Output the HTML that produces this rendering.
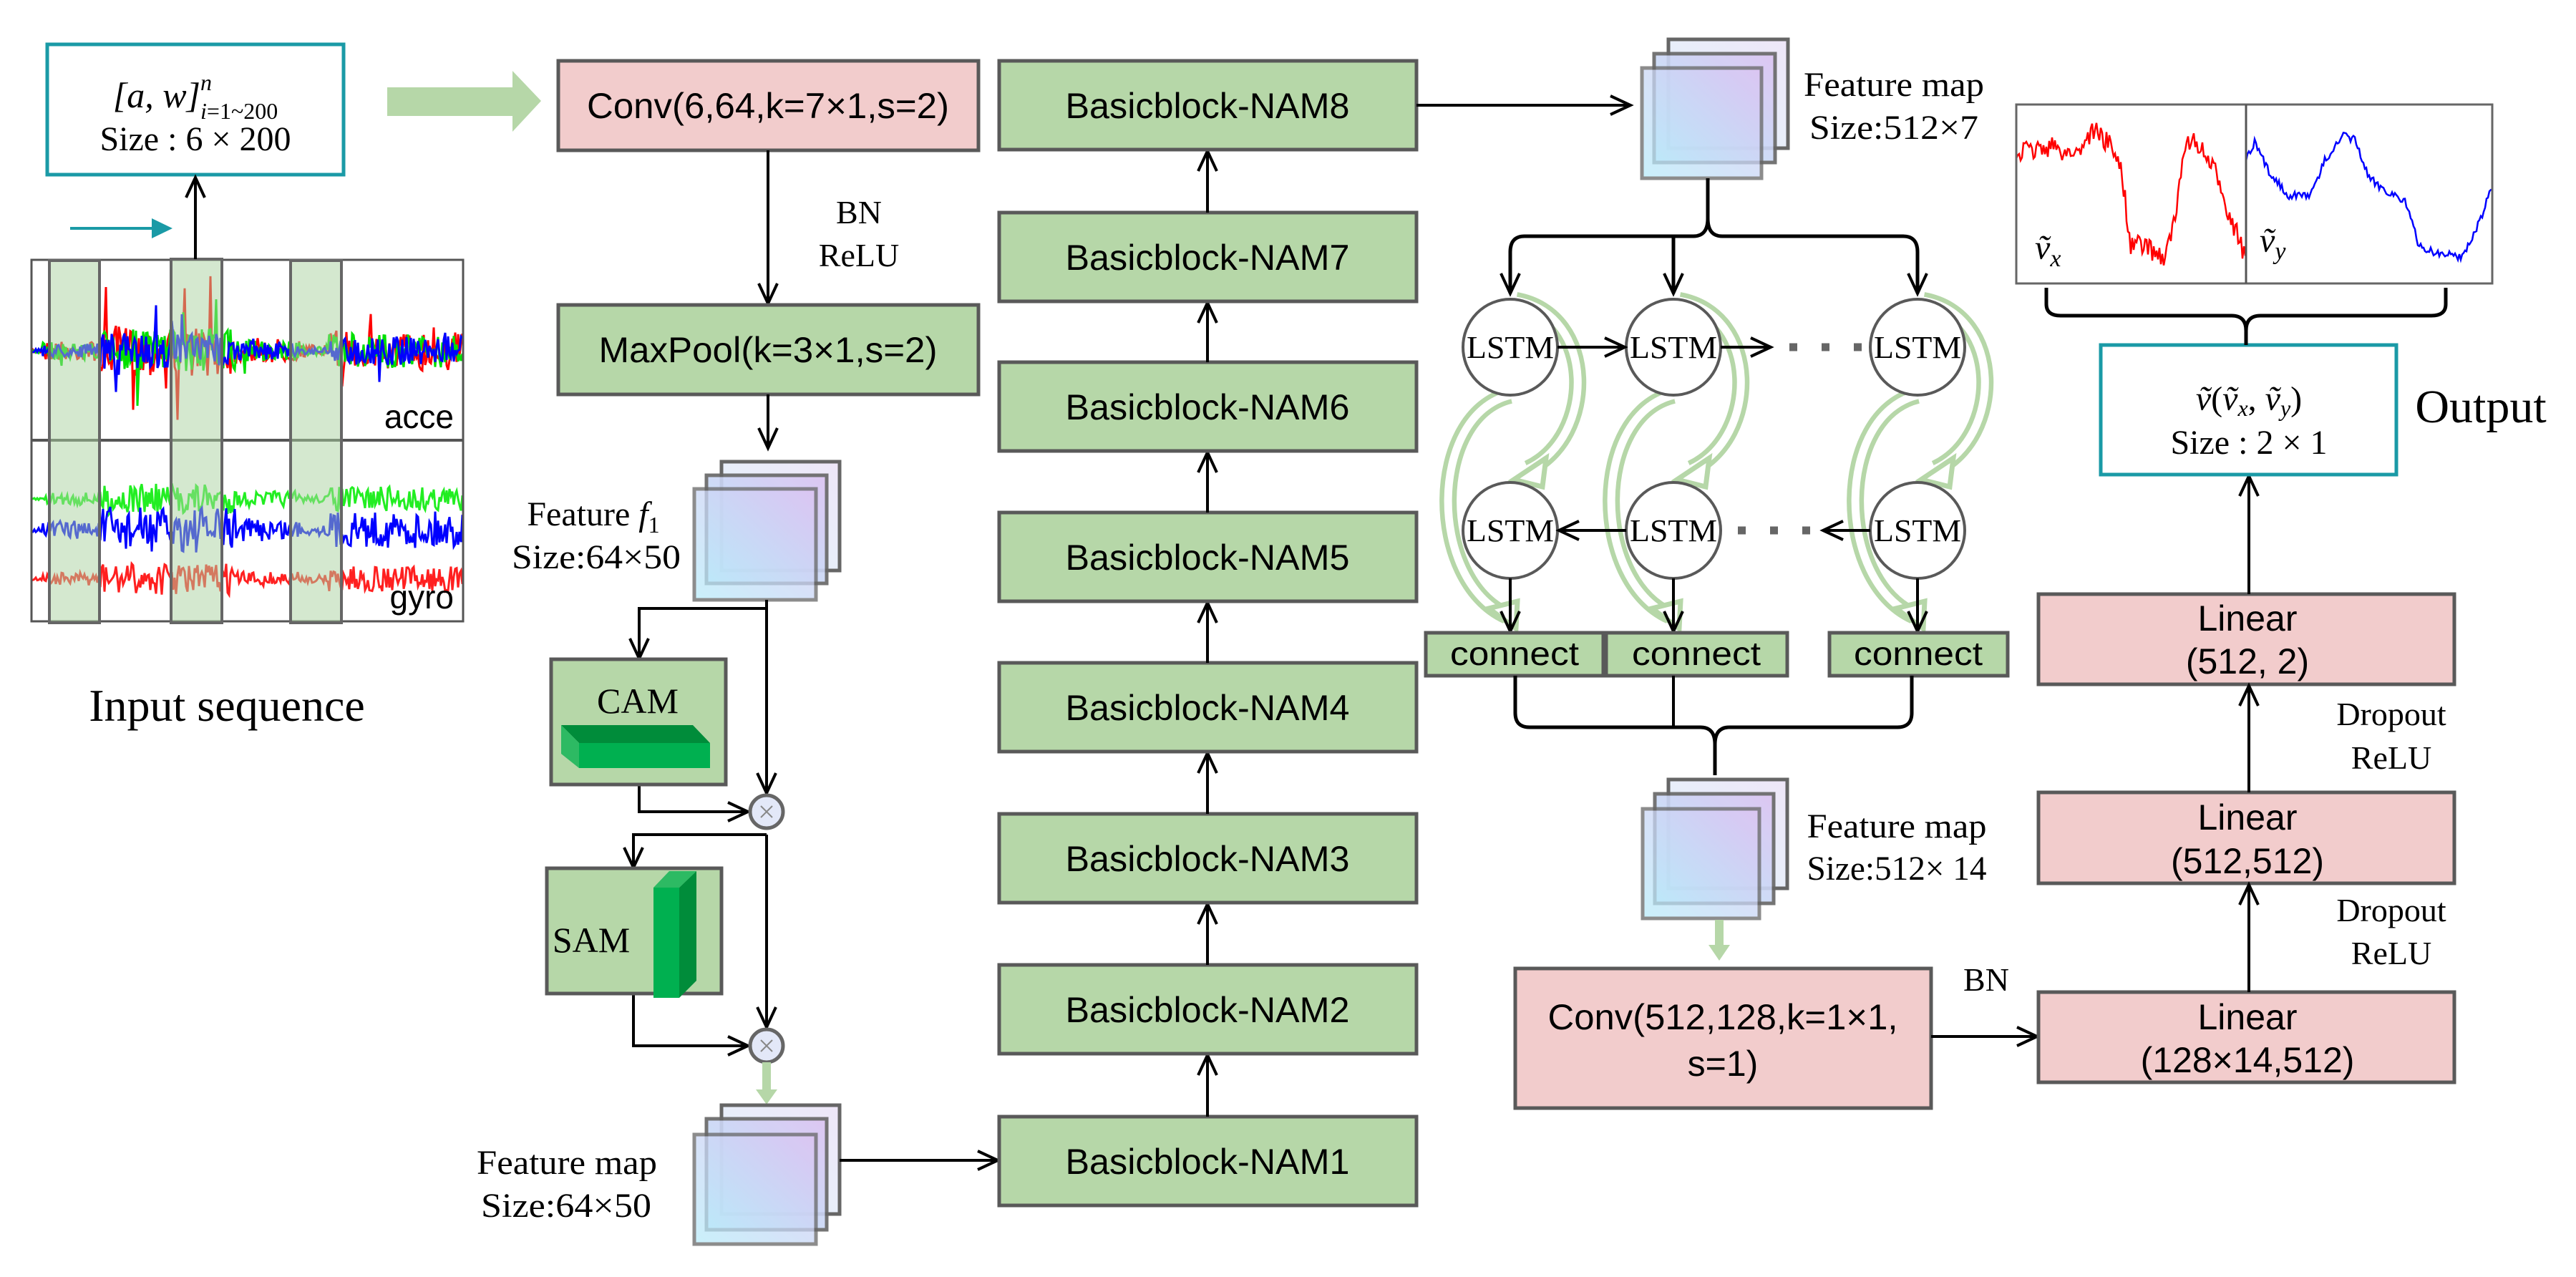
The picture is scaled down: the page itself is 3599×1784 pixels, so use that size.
<!DOCTYPE html>
<html><head><meta charset="utf-8"><style>
html,body{margin:0;padding:0;background:#fff;}
svg{display:block;}
.ar{font-family:"Liberation Sans",Arial,sans-serif;}
.tm{font-family:"Liberation Serif","Times New Roman",serif;}
</style></head><body>
<svg id="s" width="3599" height="1784" viewBox="0 0 3599 1784" xmlns="http://www.w3.org/2000/svg">
<defs>
<marker id="a" markerUnits="userSpaceOnUse" markerWidth="40" markerHeight="40" refX="30" refY="15" orient="auto">
<path d="M2,2 L30,15 L2,28" fill="none" stroke="#000" stroke-width="4"/></marker>
<linearGradient id="g" x1="0" y1="1" x2="1" y2="0">
<stop offset="0" stop-color="#b8ecfa"/><stop offset="1" stop-color="#dcc3f2"/></linearGradient>
<linearGradient id="g2" x1="0" y1="1" x2="1" y2="0">
<stop offset="0" stop-color="#e3f6fc"/><stop offset="1" stop-color="#eee6f8"/></linearGradient>
</defs>

<rect x="66" y="62" width="414" height="182" fill="#fff" stroke="#1a9aa6" stroke-width="5"/>
<text x="273" y="150" text-anchor="middle" class="tm" font-size="50"><tspan font-style="italic">[a, w]</tspan><tspan font-size="32" dy="-24" font-style="italic">n</tspan><tspan font-size="32" dx="-16" dy="40" font-style="italic">i</tspan><tspan font-size="32" dy="0">=1~200</tspan></text>
<text x="273" y="210" text-anchor="middle" class="tm" font-size="48">Size : 6 × 200</text>

<polygon points="541,122 716,122 716,99 756,141 716,184 716,162 541,162" fill="#b6d7a8"/>

<g id="sig"></g>
<rect x="44" y="363" width="603" height="505" fill="none" stroke="#555" stroke-width="3"/>
<line x1="44" y1="615" x2="647" y2="615" stroke="#555" stroke-width="4"/>
<g fill="rgba(170,210,160,0.5)" stroke="#666" stroke-width="4">
<rect x="69" y="364" width="70" height="506"/>
<rect x="239" y="362" width="71" height="508"/>
<rect x="406" y="364" width="71" height="506"/>
</g>
<text x="634" y="598" text-anchor="end" class="ar" font-size="46">acce</text>
<text x="634" y="850" text-anchor="end" class="ar" font-size="46">gyro</text>
<line x1="98" y1="319" x2="222" y2="319" stroke="#1a9aa6" stroke-width="4"/>
<polygon points="212,305 241,319 212,333" fill="#1a9aa6"/>
<line x1="273" y1="362" x2="273" y2="248" stroke="#000" stroke-width="4" marker-end="url(#a)"/>
<text x="317" y="1007" text-anchor="middle" class="tm" font-size="64">Input sequence</text>

<rect x="780" y="85" width="587" height="125" fill="#f2cccc" stroke="#595959" stroke-width="5"/>
<text x="1073" y="165" text-anchor="middle" class="ar" font-size="50" textLength="506" lengthAdjust="spacingAndGlyphs">Conv(6,64,k=7×1,s=2)</text>
<line x1="1073" y1="210" x2="1073" y2="424" stroke="#000" stroke-width="4" marker-end="url(#a)"/>
<text x="1200" y="312" text-anchor="middle" class="tm" font-size="46">BN</text>
<text x="1200" y="372" text-anchor="middle" class="tm" font-size="46">ReLU</text>
<rect x="780" y="426" width="587" height="125" fill="#b6d7a8" stroke="#595959" stroke-width="5"/>
<text x="1073" y="506" text-anchor="middle" class="ar" font-size="50" textLength="473" lengthAdjust="spacingAndGlyphs">MaxPool(k=3×1,s=2)</text>
<line x1="1073" y1="551" x2="1073" y2="626" stroke="#000" stroke-width="4" marker-end="url(#a)"/>

<g stroke="#666" stroke-width="5">
<rect x="1008" y="645" width="165" height="152" fill="url(#g2)"/>
<rect x="987" y="664" width="168" height="151" fill="url(#g)" opacity="0.9"/>
<rect x="970" y="683" width="170" height="155" fill="url(#g)" opacity="0.75"/>
</g>
<text x="829" y="734" text-anchor="middle" class="tm" font-size="48">Feature <tspan font-style="italic">f</tspan><tspan font-size="32" dy="10">1</tspan></text>
<text x="833" y="794" text-anchor="middle" class="tm" font-size="48" textLength="236" lengthAdjust="spacingAndGlyphs">Size:64×50</text>

<g fill="none" stroke="#000" stroke-width="4">
<path d="M1071,838 L1071,1108" marker-end="url(#a)"/>
<path d="M1071,850 L893,850 L893,920" marker-end="url(#a)"/>
<path d="M893,1096 L893,1134 L1045,1134" marker-end="url(#a)"/>
<path d="M1071,1166 L885,1166 L885,1212" marker-end="url(#a)"/>
<path d="M1071,1166 L1071,1435" marker-end="url(#a)"/>
<path d="M885,1388 L885,1461 L1045,1461" marker-end="url(#a)"/>
</g>
<rect x="770" y="921" width="244" height="175" fill="#b6d7a8" stroke="#595959" stroke-width="5"/>
<text x="891" y="996" text-anchor="middle" class="tm" font-size="50">CAM</text>
<polygon points="784,1013 968,1013 992,1038 809,1038" fill="#008c3a"/>
<polygon points="784,1013 809,1038 809,1073 784,1053" fill="#2dba63"/>
<rect x="809" y="1038" width="183" height="35" fill="#00b050"/>
<rect x="764" y="1213" width="244" height="175" fill="#b6d7a8" stroke="#595959" stroke-width="5"/>
<text x="826" y="1330" text-anchor="middle" class="tm" font-size="50">SAM</text>
<polygon points="913,1240 935,1217 973,1217 949,1240" fill="#2dba63"/>
<rect x="913" y="1240" width="36" height="154" fill="#00b050"/>
<polygon points="949,1240 973,1217 973,1370 949,1394" fill="#008c3a"/>
<g fill="#e3e8f8" stroke="#666" stroke-width="5">
<circle cx="1071" cy="1134" r="23"/><circle cx="1071" cy="1461" r="23"/></g>
<g stroke="#888" stroke-width="2"><path d="M1063,1126 L1079,1142 M1079,1126 L1063,1142"/><path d="M1063,1453 L1079,1469 M1079,1453 L1063,1469"/></g>
<line x1="1071" y1="1484" x2="1071" y2="1528" stroke="#b6d7a8" stroke-width="12"/>
<polygon points="1056,1522 1086,1522 1071,1543" fill="#b6d7a8"/>

<g stroke="#666" stroke-width="5">
<rect x="1008" y="1544" width="165" height="152" fill="url(#g2)"/>
<rect x="987" y="1563" width="168" height="155" fill="url(#g)" opacity="0.9"/>
<rect x="970" y="1585" width="170" height="153" fill="url(#g)" opacity="0.75"/>
</g>
<text x="792" y="1640" text-anchor="middle" class="tm" font-size="48" textLength="252" lengthAdjust="spacingAndGlyphs">Feature map</text>
<text x="791" y="1700" text-anchor="middle" class="tm" font-size="48" textLength="238" lengthAdjust="spacingAndGlyphs">Size:64×50</text>
<line x1="1173" y1="1621" x2="1394" y2="1621" stroke="#000" stroke-width="4" marker-end="url(#a)"/>

<g id="nam"></g>

<line x1="1979" y1="147" x2="2278" y2="147" stroke="#000" stroke-width="4" marker-end="url(#a)"/>
<g stroke="#666" stroke-width="5">
<rect x="2331" y="55" width="167" height="152" fill="url(#g2)"/>
<rect x="2311" y="75" width="169" height="152" fill="url(#g)" opacity="0.9"/>
<rect x="2294" y="95" width="167" height="154" fill="url(#g)" opacity="0.75"/>
</g>
<text x="2646" y="134" text-anchor="middle" class="tm" font-size="48" textLength="252" lengthAdjust="spacingAndGlyphs">Feature map</text>
<text x="2646" y="194" text-anchor="middle" class="tm" font-size="48" textLength="236" lengthAdjust="spacingAndGlyphs">Size:512×7</text>

<g id="arcs" fill="none"></g>

<g fill="none" stroke="#000" stroke-width="5">
<path d="M2386,249 L2386,305 Q2386,330 2366,330 L2130,330 Q2110,330 2110,352 L2110,410" marker-end="url(#a)"/>
<path d="M2386,305 Q2386,330 2406,330 L2659,330 Q2679,330 2679,352 L2679,410" marker-end="url(#a)"/>
<path d="M2338,330 L2338,410" marker-end="url(#a)"/>
</g>
<g fill="#fff" stroke="#595959" stroke-width="4">
<ellipse cx="2110" cy="485" rx="66" ry="67"/><ellipse cx="2338" cy="485" rx="66" ry="67"/><ellipse cx="2679" cy="485" rx="66" ry="67"/>
<ellipse cx="2110" cy="741" rx="66" ry="67"/><ellipse cx="2338" cy="741" rx="66" ry="67"/><ellipse cx="2679" cy="741" rx="66" ry="67"/>
</g>
<g class="tm" font-size="44" text-anchor="middle">
<text x="2110" y="500" textLength="122" lengthAdjust="spacingAndGlyphs">LSTM</text>
<text x="2338" y="500" textLength="122" lengthAdjust="spacingAndGlyphs">LSTM</text>
<text x="2679" y="500" textLength="122" lengthAdjust="spacingAndGlyphs">LSTM</text>
<text x="2110" y="756" textLength="122" lengthAdjust="spacingAndGlyphs">LSTM</text>
<text x="2338" y="756" textLength="122" lengthAdjust="spacingAndGlyphs">LSTM</text>
<text x="2679" y="756" textLength="122" lengthAdjust="spacingAndGlyphs">LSTM</text>
</g>
<g fill="none" stroke="#000" stroke-width="4">
<path d="M2176,485 L2270,485" marker-end="url(#a)"/>
<path d="M2404,485 L2474,485" marker-end="url(#a)"/>
<path d="M2272,741 L2178,741" marker-end="url(#a)"/>
<path d="M2613,741 L2547,741" marker-end="url(#a)"/>
<path d="M2110,808 L2110,882" marker-end="url(#a)"/>
<path d="M2338,808 L2338,882" marker-end="url(#a)"/>
<path d="M2679,808 L2679,882" marker-end="url(#a)"/>
</g>
<g stroke="#666" stroke-width="11" stroke-dasharray="11 34">
<line x1="2500" y1="485" x2="2610" y2="485"/>
<line x1="2428" y1="741" x2="2535" y2="741"/>
</g>
<g fill="#b6d7a8" stroke="#595959" stroke-width="5">
<rect x="1992" y="884" width="248" height="60"/><rect x="2244" y="884" width="253" height="60"/><rect x="2556" y="884" width="249" height="60"/>
</g>
<g class="ar" font-size="46" text-anchor="middle">
<text x="2116" y="929" textLength="180" lengthAdjust="spacingAndGlyphs">connect</text>
<text x="2370" y="929" textLength="180" lengthAdjust="spacingAndGlyphs">connect</text>
<text x="2680" y="929" textLength="180" lengthAdjust="spacingAndGlyphs">connect</text>
</g>
<g fill="none" stroke="#000" stroke-width="5">
<path d="M2117,944 L2117,996 Q2117,1016 2137,1016 L2376,1016 Q2396,1016 2396,1040 L2396,1083 M2396,1040 Q2396,1016 2416,1016 L2651,1016 Q2671,1016 2671,996 L2671,944"/>
<path d="M2338,944 L2338,1016" stroke-width="4"/>
</g>
<g stroke="#666" stroke-width="5">
<rect x="2331" y="1089" width="166" height="152" fill="url(#g2)"/>
<rect x="2312" y="1109" width="166" height="153" fill="url(#g)" opacity="0.9"/>
<rect x="2295" y="1130" width="163" height="153" fill="url(#g)" opacity="0.75"/>
</g>
<text x="2650" y="1170" text-anchor="middle" class="tm" font-size="48" textLength="251" lengthAdjust="spacingAndGlyphs">Feature map</text>
<text x="2650" y="1229" text-anchor="middle" class="tm" font-size="48" textLength="251" lengthAdjust="spacingAndGlyphs">Size:512× 14</text>
<line x1="2402" y1="1285" x2="2402" y2="1326" stroke="#b6d7a8" stroke-width="12"/>
<polygon points="2387,1320 2417,1320 2402,1342" fill="#b6d7a8"/>

<rect x="2117" y="1353" width="581" height="195" fill="#f2cccc" stroke="#595959" stroke-width="5"/>
<text x="2407" y="1438" text-anchor="middle" class="ar" font-size="50" textLength="489" lengthAdjust="spacingAndGlyphs">Conv(512,128,k=1×1,</text>
<text x="2407" y="1503" text-anchor="middle" class="ar" font-size="50">s=1)</text>
<text x="2775" y="1384" text-anchor="middle" class="tm" font-size="46">BN</text>
<line x1="2698" y1="1448" x2="2846" y2="1448" stroke="#000" stroke-width="4" marker-end="url(#a)"/>

<g fill="#f2cccc" stroke="#595959" stroke-width="5">
<rect x="2848" y="830" width="581" height="126"/>
<rect x="2848" y="1107" width="581" height="127"/>
<rect x="2848" y="1386" width="581" height="126"/>
</g>
<g class="ar" font-size="50" text-anchor="middle">
<text x="3140" y="881">Linear</text><text x="3140" y="941">(512, 2)</text>
<text x="3140" y="1159">Linear</text><text x="3140" y="1220">(512,512)</text>
<text x="3140" y="1438">Linear</text><text x="3140" y="1498">(128×14,512)</text>
</g>
<g fill="none" stroke="#000" stroke-width="4">
<path d="M3142,1386 L3142,1236" marker-end="url(#a)"/>
<path d="M3142,1107 L3142,958" marker-end="url(#a)"/>
<path d="M3142,830 L3142,665" marker-end="url(#a)"/>
</g>
<g class="tm" font-size="46" text-anchor="middle">
<text x="3341" y="1013">Dropout</text><text x="3341" y="1074">ReLU</text>
<text x="3341" y="1287">Dropout</text><text x="3341" y="1347">ReLU</text>
</g>
<rect x="2935" y="482" width="413" height="181" fill="#fff" stroke="#1a9aa6" stroke-width="5"/>
<text x="3142" y="573" text-anchor="middle" class="tm" font-size="48"><tspan font-style="italic">ṽ</tspan>(<tspan font-style="italic">ṽ</tspan><tspan font-size="32" dy="8" font-style="italic">x</tspan><tspan dy="-8">, </tspan><tspan font-style="italic">ṽ</tspan><tspan font-size="32" dy="8" font-style="italic">y</tspan><tspan dy="-8">)</tspan></text>
<text x="3142" y="634" text-anchor="middle" class="tm" font-size="48">Size : 2 × 1</text>
<text x="3466" y="590" text-anchor="middle" class="tm" font-size="66">Output</text>
<g id="outsig"></g>
<rect x="2817" y="146" width="665" height="250" fill="none" stroke="#666" stroke-width="3"/>
<line x1="3138" y1="146" x2="3138" y2="396" stroke="#555" stroke-width="3"/>
<text x="2843" y="362" class="tm" font-size="48" font-style="italic">ṽ<tspan font-size="34" dy="10">x</tspan></text>
<text x="3157" y="352" class="tm" font-size="48" font-style="italic">ṽ<tspan font-size="34" dy="10">y</tspan></text>
<path d="M2859,402 L2859,425 Q2859,441 2879,441 L3118,441 Q3138,441 3138,462 L3138,482 M3138,462 Q3138,441 3158,441 L3397,441 Q3417,441 3417,425 L3417,402" fill="none" stroke="#000" stroke-width="5"/>
</svg>
<script>
(function(){
var NS="http://www.w3.org/2000/svg";
function el(p,t,a){var e=document.createElementNS(NS,t);for(var k in a)e.setAttribute(k,a[k]);p.appendChild(e);return e;}
var seed=7;function r(){seed=(seed*16807)%2147483647;return seed/2147483647;}
var nam=document.getElementById('nam');
var ys=[1560,1348,1137,926,716,506,297,85];
for(var i=0;i<8;i++){var y=ys[i];
el(nam,'rect',{x:1396,y:y,width:583,height:124,fill:'#b6d7a8',stroke:'#595959','stroke-width':5});
var t=el(nam,'text',{x:1687,y:y+80,'text-anchor':'middle','class':'ar','font-size':50,textLength:397,lengthAdjust:'spacingAndGlyphs'});t.textContent='Basicblock-NAM'+(i+1);
if(i<7){el(nam,'line',{x1:1687,y1:y,x2:1687,y2:ys[i+1]+126,stroke:'#000','stroke-width':4,'marker-end':'url(#a)'});}
}
var sg=document.getElementById('sig');
function act(x){if(x<60)return 0.1; if(x<140)return 0.4; if(x<330)return 1; if(x<420)return 0.5; if(x<460)return 0.25; return 0.8;}
function trace(base,amp,col,spike){var d='';for(var x=44;x<=647;x+=2){var a=act(x);var v=(r()-0.5)*2*amp*a;if(spike&&r()<0.04*a)v*=3;var y=base+v;d+=(x==44?'M':'L')+x+','+y.toFixed(1);}
el(sg,'path',{d:d,fill:'none',stroke:col,'stroke-width':3});}
trace(490,35,'#ff0000',true);trace(490,30,'#00e000',true);trace(490,25,'#0000ff',true);
trace(697,22,'#22ee22',false);trace(740,32,'#0000ff',false);trace(809,22,'#ff2020',false);
var og=document.getElementById('outsig');
function piece(pts,x0,x1,col,n){var d='';for(var x=x0;x<=x1;x+=2){var j=0;while(j<pts.length-2&&pts[j+1][0]<x)j++;var a=pts[j],b=pts[j+1];var t=(x-a[0])/(b[0]-a[0]);t=Math.max(0,Math.min(1,t));var y=a[1]+(b[1]-a[1])*t+(r()-0.5)*n;d+=(x==x0?'M':'L')+x+','+y.toFixed(1);}
el(og,'path',{d:d,fill:'none',stroke:col,'stroke-width':2.5});}
piece([[2817,215],[2860,205],[2900,215],[2925,180],[2950,205],[2965,240],[2975,340],[3000,345],[3025,360],[3040,300],[3055,190],[3075,210],[3100,250],[3115,300],[3138,360]],2817,3138,'#ff0000',30);
piece([[3138,225],[3150,200],[3170,240],[3200,275],[3230,270],[3250,220],[3275,190],[3290,195],[3310,250],[3340,270],[3360,280],[3380,345],[3410,355],[3440,358],[3460,320],[3482,260]],3138,3482,'#0000ff',12);
var ag=document.getElementById('arcs');
[2110,2338,2679].forEach(function(cx){
 var p1='M'+(cx+8)+',420 C'+(cx+120)+',440 '+(cx+120)+',610 '+(cx+25)+',655';
 var p2='M'+(cx)+',552 C'+(cx-115)+',580 '+(cx-115)+',810 '+(cx-5)+',860';
 [p1,p2].forEach(function(p){
  el(ag,'path',{d:p,stroke:'#b6d7a8','stroke-width':24,'stroke-linecap':'butt'});
  el(ag,'path',{d:p,stroke:'#fff','stroke-width':11});
 });
 el(ag,'polygon',{points:(cx+5)+','+670+' '+(cx+50)+','+640+' '+(cx+45)+','+680,fill:'#fff',stroke:'#b6d7a8','stroke-width':7});
 el(ag,'polygon',{points:(cx+8)+','+878+' '+(cx-30)+','+850+' '+(cx+10)+','+840,fill:'#fff',stroke:'#b6d7a8','stroke-width':7});
});
})();
</script>
</body></html>
